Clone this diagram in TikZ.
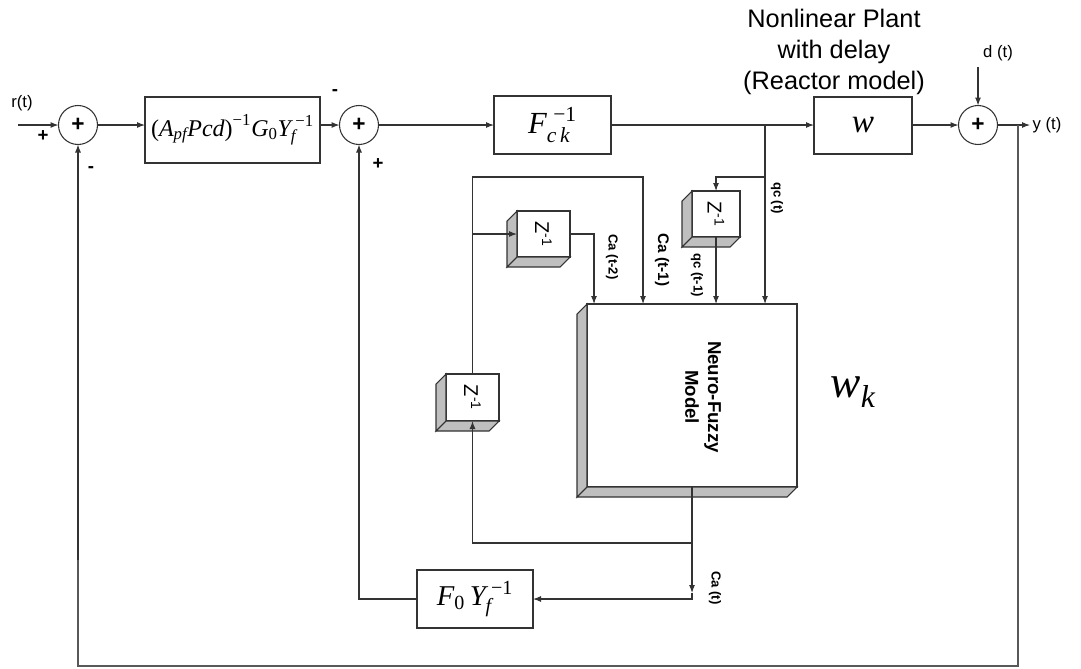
\documentclass[tikz,border=0pt]{standalone}
\usepackage{amsmath}
\usepackage{fontspec}
\setmainfont{Liberation Sans}
\newfontfamily\tms{Liberation Serif}
\usetikzlibrary{arrows.meta}
\newcommand\ti[1]{\text{\tms\itshape #1}}
\newcommand\tu[1]{\text{\tms #1}}
\newcommand\threed[1]{%
  \filldraw[face] (#1.north west) -- ++(-7.5pt,-7.5pt) -- ([shift={(-7.5pt,-7.5pt)}]#1.south west) -- (#1.south west) -- cycle;
  \filldraw[face] (#1.south west) -- ++(-7.5pt,-7.5pt) -- ([shift={(-7.5pt,-7.5pt)}]#1.south east) -- (#1.south east) -- cycle;}
\tikzset{
  ln/.style={draw=black!80, line width=0.8pt},
  arr/.style={ln, -{Latex[length=6pt,width=4.5pt]}},
  outer/.style={draw=black!65, line width=1.3pt},
  sumnode/.style={circle, draw=black!80, line width=0.8pt, minimum size=29.25pt, inner sep=0pt, outer sep=0pt, font=\fontsize{17}{17}\selectfont\bfseries},
  blk/.style={draw=black!80, line width=0.8pt, fill=white, inner sep=0pt, outer sep=0pt},
  face/.style={fill=black!25, draw=black!80, line width=0.8pt},
  lbl/.style={font=\fontsize{12.5}{14}\selectfont, inner sep=0pt},
  sig/.style={font=\fontsize{14}{14}\selectfont\bfseries, inner sep=0pt},
  vlab/.style={font=\fontsize{9.8}{11}\selectfont\bfseries, rotate=-90, inner sep=0pt},
  ztext/.style={font=\fontsize{15}{15}\selectfont, rotate=-90, inner sep=0pt},
}
\begin{document}
\begin{tikzpicture}[x=0.75pt,y=-0.75pt]
\useasboundingbox (0,0) rectangle (1081,668);
% summing junctions
\node[sumnode] (s1) at (78,125) {+};
\node[sumnode] (s2) at (359,125) {+};
\node[sumnode] (s3) at (978,125) {+};
% blocks
\node[blk, minimum width=131.25pt, minimum height=49.5pt, font=\fontsize{18}{18}\selectfont] (b1) at (232.5,130)
  {$\tu{(}\ti{A}_{\ti{pf}}\ti{Pcd}\tu{)}^{\tu{−1}}\ti{G}_{\tu{0}}\ti{Y}_{\ti{f}}^{\;\tu{−1}}$};
\node[blk, minimum width=87.75pt, minimum height=43.5pt, font=\fontsize{23}{23}\selectfont] (fck) at (552.5,125)
  {$\ti{F}_{\ti{c\,k}}^{\;\tu{−1}}$};
\node[blk, minimum width=73.5pt, minimum height=42.75pt, font=\fontsize{25}{25}\selectfont] (w) at (863,125.5) {$\ti{w}$};
\node[blk, minimum width=87pt, minimum height=43.5pt, font=\fontsize{21.5}{21.5}\selectfont] (f0) at (475,599)
  {$\ti{F}_{\tu{0}}\,\ti{Y}_{\ti{f}}^{\;\tu{−1}}$};
% 3d boxes
\node[blk, minimum width=157.5pt, minimum height=137.25pt] (nf) at (692,395.5) {};
\node[blk, minimum width=39.75pt, minimum height=35.25pt] (z1) at (472.5,397.5) {};
\node[blk, minimum width=39.75pt, minimum height=34.5pt] (z2) at (543.5,234) {};
\node[blk, minimum width=36pt, minimum height=34.5pt] (z3) at (716,214) {};
\threed{nf}\threed{z1}\threed{z2}\threed{z3}
\node[ztext] at (z1) {Z\textsuperscript{-1}};
\node[ztext] at (z2) {Z\textsuperscript{-1}};
\node[ztext] at (z3) {Z\textsuperscript{-1}};
\node[rotate=-90, align=center, font=\fontsize{14}{17}\selectfont\bfseries] at (703,397) {Neuro-Fuzzy\\Model};
% coordinates
\coordinate (rin) at (18,125);
\coordinate (dtop) at (978,67);
\coordinate (yout) at (1030,125);
\coordinate (yb) at (1018,125);
\coordinate (ybot) at (1018,666);
\coordinate (lbot) at (78,666);
\coordinate (qcb) at (765,125);
\coordinate (qcz) at (765,177);
\coordinate (ca1) at (643,177);
\coordinate (ca2) at (594,234);
\coordinate (nfo) at (692,593);
\coordinate (nfc) at (692,599);
\coordinate (br) at (692,543);
% connectors
\draw[arr] (rin) -- (s1.west);
\draw[arr] (s1.east) -- (b1.west |- s1.east);
\draw[arr] (b1.east |- s2.west) -- (s2.west);
\draw[arr] (s2.east) -- (fck.west);
\draw[arr] (fck.east) -- (w.west |- fck.east);
\draw[arr] (w.east |- s3.west) -- (s3.west);
\draw[arr] (dtop) -- (s3.north);
\draw[arr] (s3.east) -- (yout);
\draw[outer] (yb) -- (ybot) -- (lbot) -- (s1.south |- 0,560);
\draw[arr] (s1.south |- 0,560) -- (s1.south);
\draw[arr] (qcb) -- (qcb |- nf.north);
\draw[arr] (qcz) -- (z3.north |- qcz) -- (z3.north);
\draw[arr] (z3.south) -- (z3.south |- nf.north);
\draw[arr] (z1.north) -- (z1.north |- ca1) -- (ca1) -- (ca1 |- nf.north);
\draw[arr] (z1.north |- z2.west) -- (z2.west);
\draw[arr] (z2.east) -- (ca2) -- (ca2 |- nf.north);
\draw[arr] (nf.south) -- (nfo);
\draw[arr] (nfo) -- (nfc) -- (f0.east);
\draw[arr] (br) -- (z1.south |- br) -- (z1.south);
\draw[arr] (f0.west) -- (s2.south |- f0.west) -- (s2.south);
% labels
\node[lbl] at (22,103) {r(t)};
\node[sig] at (43,136) {+};
\node[sig] at (91,170) {-};
\node[sig] at (335,93) {-};
\node[sig] at (378,164) {+};
\node[align=center, font=\fontsize{19}{23.5}\selectfont] at (834,52) {Nonlinear Plant\\with delay\\(Reactor model)};
\node[lbl] at (998,53) {d (t)};
\node[lbl] at (1047,125) {y (t)};
\node[vlab] at (612,257) {Ca (t-2)};
\node[vlab, font=\fontsize{11.5}{12}\selectfont\bfseries] at (662,260) {Ca (t-1)};
\node[vlab] at (697,275) {qc (t-1)};
\node[vlab] at (777,198) {qc (t)};
\node[vlab] at (715,588) {Ca (t)};
\node[font=\fontsize{34}{34}\selectfont] at (853,392) {$\ti{w}_{\ti{k}}$};
\end{tikzpicture}
\end{document}
